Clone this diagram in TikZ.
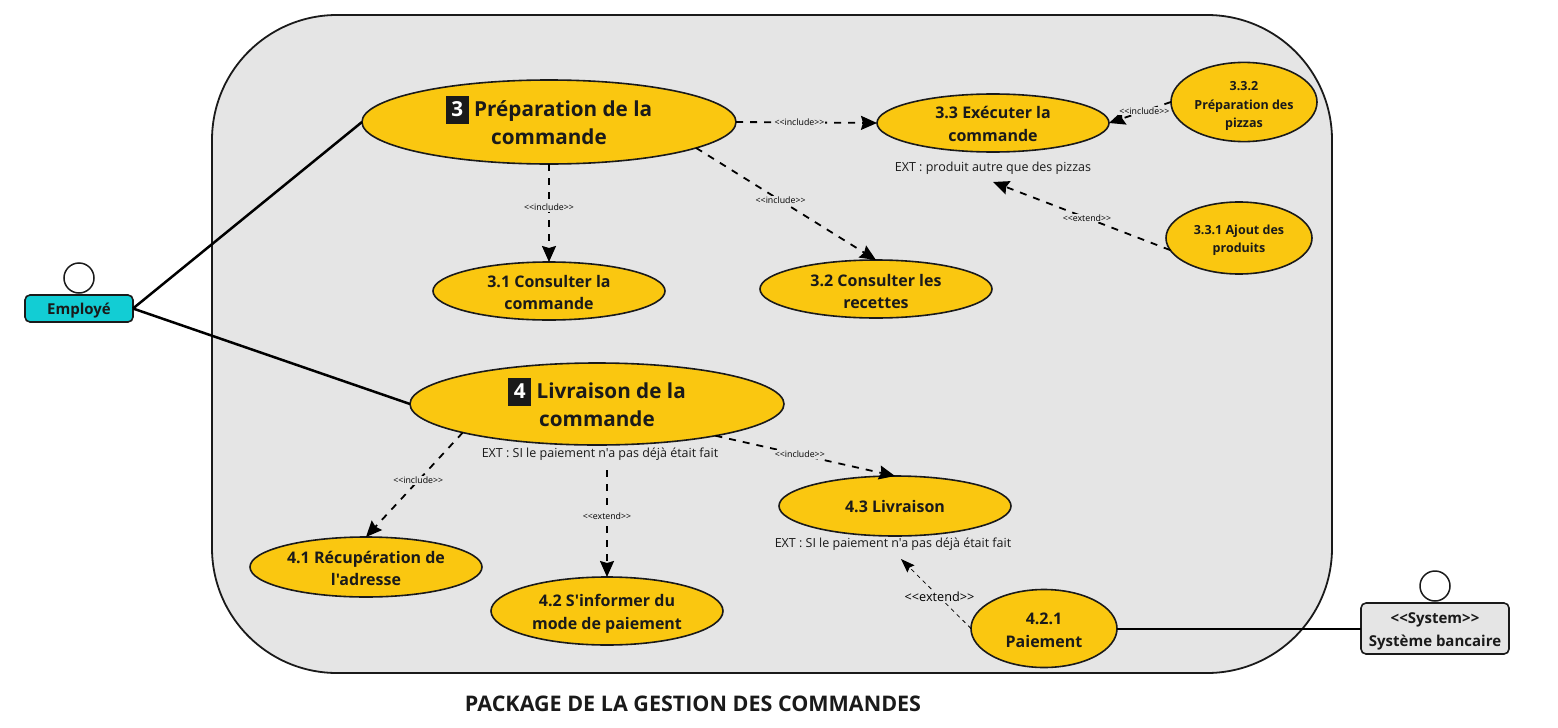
\documentclass[tikz,border=0pt]{standalone}
\usepackage{fontspec}
\setmainfont{Open Sans}[Ligatures=TeXOff]
\usepackage{xcolor}
\usetikzlibrary{positioning}
\usetikzlibrary{shapes}
\usetikzlibrary{arrows.meta}

\definecolor{pkggrey}{HTML}{E5E5E5}
\definecolor{caseyellow}{HTML}{FAC710}
\definecolor{actorcyan}{HTML}{12CDD4}
\definecolor{inkdark}{HTML}{1A1A1A}

\newcommand{\numbadge}[1]{\smash{\setlength{\fboxsep}{5pt}\colorbox{inkdark}{\rule[-2pt]{0pt}{18pt}\makebox[13pt]{\textcolor{white}{#1}}}}}
\newcommand{\lineup}[1]{\rule{0pt}{#1pt}}

\tikzset{
	usecase/.style={ellipse, draw=inkdark, fill=caseyellow, line width=1.6pt, inner sep=0pt, outer sep=0pt, align=center, text=inkdark, font=\bfseries\fontsize{16}{22.5}\selectfont},
	bigcase/.style={usecase, font=\bfseries\fontsize{20.7}{28}\selectfont},
	smallcase/.style={usecase, font=\bfseries\fontsize{12.5}{18}\selectfont},
	actorbox/.style={draw=inkdark, rounded corners=5pt, line width=1.6pt, outer sep=0pt, align=center, text=inkdark, font=\bfseries\fontsize{15}{23}\selectfont},
	actorhead/.style={circle, draw=inkdark, fill=white, line width=1.5pt, minimum size=30pt, inner sep=0pt},
	assoc/.style={draw=black, line width=2.5pt},
	dep/.style={draw=black, line width=1.8pt, dash pattern=on 7pt off 7pt, -{Stealth[length=16pt,width=14pt,inset=2pt]}},
	thindep/.style={draw=black, line width=0.8pt, dash pattern=on 4pt off 4pt, -{Stealth[length=14pt,width=10pt,inset=2pt]}},
	deplabel/.style={fill=pkggrey, inner sep=1pt, text=black, font=\fontsize{8.8}{11}\selectfont},
	extnote/.style={text=inkdark, inner sep=0pt, font=\fontsize{12.5}{15}\selectfont},
}

\begin{document}
\begin{tikzpicture}[x=1pt, y=-1pt]
	\useasboundingbox (0,0) rectangle (1558,728);

	% package
	\draw[draw=inkdark, fill=pkggrey, line width=1.8pt, rounded corners=125pt] (212,15) rectangle (1332,673);
	\node[text=inkdark, font=\bfseries\fontsize{21.5}{26}\selectfont] (title) at (693,703.5) {PACKAGE DE LA GESTION DES COMMANDES};

	% actors
	\node[actorhead] (empHead) at (79,278) {};
	\node[actorbox, fill=actorcyan, minimum width=108pt, minimum height=27pt] (emp) at (79,308.5) {\lineup{15.5}Employé};
	\node[actorhead] (sysHead) at (1435,586) {};
	\node[actorbox, fill=pkggrey, minimum width=148pt, minimum height=51pt] (sys) at (1435,628.5) {\lineup{17.5}<<System>>\\Système bancaire};

	% cas 3
	\node[bigcase, minimum width=374pt, minimum height=84pt] (prep) at (549,122) {\lineup{18}\numbadge{3} Préparation de la\\commande};
	\node[usecase, minimum width=232pt, minimum height=58pt] (consult) at (549,291) {\lineup{15.5}3.1 Consulter la\\commande};
	\node[usecase, minimum width=232pt, minimum height=58pt] (recettes) at (876,289) {\lineup{17.5}3.2 Consulter les\\recettes};
	\node[usecase, minimum width=232pt, minimum height=58pt] (exec) at (993,123) {\lineup{14.5}3.3 Exécuter la\\commande};
	\node[smallcase, minimum width=146pt, minimum height=74pt] (pizzas) at (1244,102) {\lineup{17}3.3.2\\Préparation des\\pizzas};
	\node[smallcase, minimum width=146pt, minimum height=72pt] (ajout) at (1239,238) {\lineup{14}3.3.1 Ajout des\\produits};
	\node[extnote] (extExec) at (993,168) {EXT : produit autre que des pizzas};

	% cas 4
	\node[bigcase, minimum width=374pt, minimum height=82pt] (livr) at (597,404) {\lineup{18}\numbadge{4} Livraison de la\\commande};
	\node[usecase, minimum width=232pt, minimum height=60pt] (adresse) at (366,567) {\lineup{15.5}4.1 Récupération de\\l'adresse};
	\node[usecase, minimum width=232pt, minimum height=68pt] (mode) at (607,611) {\lineup{17.5}4.2 S'informer du\\mode de paiement};
	\node[usecase, minimum width=232pt, minimum height=60pt] (livraison) at (895,506) {\lineup{14}4.3 Livraison};
	\node[usecase, minimum width=146pt, minimum height=78pt] (paiement) at (1044,628.5) {\lineup{15.5}4.2.1\\Paiement};
	\node[extnote] (extLivr) at (600,454) {EXT : SI le paiement n'a pas déjà était fait};
	\node[extnote] (extLiv3) at (893,544) {EXT : SI le paiement n'a pas déjà était fait};

	\coordinate (extExecEnd) at (993,182);
	\coordinate (modeStart) at (607,470);
	\coordinate (liv3End) at (901,559);

	% liens
	\draw[assoc] (emp.east) -- (prep.west);
	\draw[assoc] (emp.east) -- (livr.west);
	\draw[draw=black, line width=2pt] (paiement.east) -- (sys.west);

	\draw[dep] (prep.east) -- node[deplabel, pos=0.45] {<<include>>} (exec.west);
	\draw[dep] (prep.south) -- node[deplabel, pos=0.44] {<<include>>} (consult.north);
	\draw[dep] (prep.-10.5) -- node[deplabel, pos=0.47] {<<include>>} (recettes.north);
	\draw[dep] (pizzas.180) -- node[deplabel, pos=0.43] {<<include>>} (exec.east);
	\draw[dep] (ajout.-170) -- node[deplabel, pos=0.47] {<<extend>>} (extExecEnd);
	\draw[dep] (livr.-168.5) -- node[deplabel, pos=0.46] {<<include>>} (adresse.north);
	\draw[dep] (modeStart) -- node[deplabel, pos=0.43] {<<extend>>} (mode.north);
	\draw[dep] (livr.-15) -- node[deplabel, pos=0.47] {<<include>>} (livraison.north);
	\draw[thindep] (paiement.west) -- node[deplabel, pos=0.45, font=\fontsize{12.7}{14}\selectfont] {<<extend>>} (liv3End);
\end{tikzpicture}
\end{document}
